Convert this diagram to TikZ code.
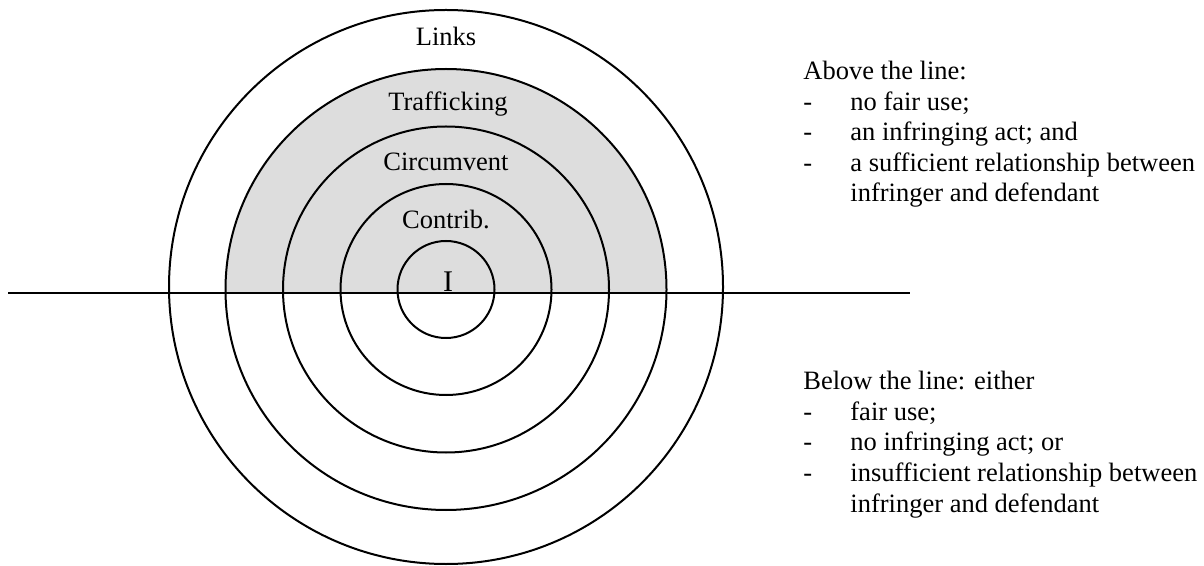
\documentclass[tikz,border=0pt]{standalone}
\usepackage{fontspec}
\setmainfont{Liberation Serif}
\definecolor{shadegray}{RGB}{221,221,221}
\tikzset{
  ring/.style={draw=black, line width=1pt},
  lbl/.style={anchor=base, inner sep=0pt, font=\fontsize{13.25}{15}\selectfont},
  txt/.style={anchor=base west, inner sep=0pt, font=\fontsize{13.25}{15}\selectfont},
}
\begin{document}
\begin{tikzpicture}[x=0.5pt,y=-0.5pt]
\useasboundingbox (0,0) rectangle (1204,566);
\begin{scope}
  \clip (0,0) rectangle (1204,293);
  \fill[shadegray] (446,289.5) circle (220.5);
\end{scope}
\draw[ring] (446,287) circle (277);
\draw[ring] (446,289.5) circle (220.5);
\draw[ring] (446,289.5) circle (163);
\draw[ring] (446,289.5) circle (105.5);
\draw[ring] (446,289.5) circle (48.5);
\coordinate (L) at (8,293);
\coordinate (R) at (910,293);
\draw[line width=1.2pt] (L) -- (R);
\node[lbl] (links) at (446,46) {Links};
\node[lbl] (traf) at (448,111) {Trafficking};
\node[lbl] (circ) at (446,171) {Circumvent};
\node[lbl] (contr) at (446,229) {Contrib.};
\node[lbl, font=\fontsize{15}{17}\selectfont] (i) at (448,292) {I};
% above
\node[txt] (a0) at (803,80) {Above the line:};
\node[txt] (a1d) at (803,110.5) {-};
\node[txt] (a1) at (850,110.5) {no fair use;};
\node[txt] (a2d) at (803,141) {-};
\node[txt] (a2) at (850,141) {an infringing act; and};
\node[txt] (a3d) at (803,171.5) {-};
\node[txt] (a3) at (850,171.5) {a sufficient relationship between};
\node[txt] (a4) at (850,202) {infringer and defendant};
% below
\node[txt] (b0) at (803,390) {Below the line: either};
\node[txt] (b1d) at (803,420.5) {-};
\node[txt] (b1) at (850,420.5) {fair use;};
\node[txt] (b2d) at (803,451) {-};
\node[txt] (b2) at (850,451) {no infringing act; or};
\node[txt] (b3d) at (803,481.5) {-};
\node[txt] (b3) at (850,481.5) {insufficient relationship between};
\node[txt] (b4) at (850,512) {infringer and defendant};
\end{tikzpicture}
\end{document}
